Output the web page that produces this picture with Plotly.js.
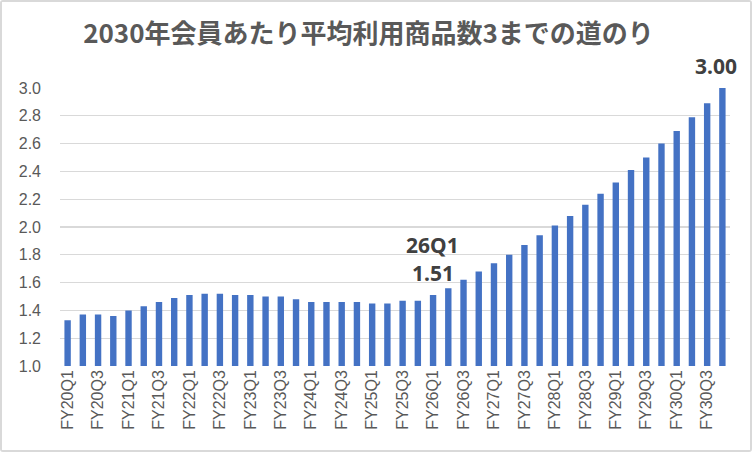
<!DOCTYPE html>
<html>
<head>
<meta charset="utf-8">
<script src="https://cdn.plot.ly/plotly-3.0.1.min.js"></script>
<style>
  html, body { margin: 0; padding: 0; background: #fff; }
  #chart { width: 748px; height: 448px; border: 2px solid #d9d9d9; border-radius: 3px; }
</style>
</head>
<body>
<div id="chart"></div>
<script>
// quarters FY20Q1 .. FY30Q4
var years = ['20', '21', '22', '23', '24', '25', '26', '27', '28', '29', '30'];
var quarters = ['Q1', 'Q2', 'Q3', 'Q4'];

var periods = [];
years.forEach(function (y) {
  quarters.forEach(function (q) { periods.push('FY' + y + q); });
});

// average products per member
var avgProducts = [
  1.33, 1.37, 1.37, 1.36, 1.40, 1.43, 1.46, 1.49,
  1.51, 1.52, 1.52, 1.51, 1.51, 1.50, 1.50, 1.48,
  1.46, 1.46, 1.46, 1.46, 1.45, 1.45, 1.47, 1.47,
  1.51, 1.56, 1.62, 1.68, 1.74, 1.80, 1.87, 1.94,
  2.01, 2.08, 2.16, 2.24, 2.32, 2.41, 2.50, 2.60,
  2.69, 2.79, 2.89, 3.00
];

// every other label is shown
var shownTicks = periods.filter(function (p, i) { return i % 2 === 0; });

var trace = {
  x: periods,
  y: avgProducts,
  type: 'bar',
  marker: { color: '#4472c4' },
  hoverinfo: 'x+y'
};

var tickFont = { family: 'Liberation Sans, Arial, sans-serif', size: 16, color: '#595959' };
var labelFont = { family: 'Noto Sans, sans-serif', size: 21, color: '#404040', weight: 'bold' };

var layout = {
  width: 748,
  height: 448,
  autosize: false,
  margin: { l: 58, r: 20, t: 86, b: 84, pad: 0 },
  paper_bgcolor: '#fff',
  plot_bgcolor: '#fff',
  bargap: 0.58,
  showlegend: false,
  title: {
    text: '<b>2030年会員あたり平均利用商品数3までの道のり</b>',
    font: { family: 'Noto Sans CJK JP, sans-serif', size: 26, color: '#595959' },
    x: 0.49,
    xanchor: 'center',
    y: 0.928,
    yanchor: 'middle',
    automargin: false
  },
  xaxis: {
    type: 'category',
    range: [-0.5, periods.length - 0.5],
    tickmode: 'array',
    tickvals: shownTicks,
    ticktext: shownTicks,
    tickangle: -90,
    tickfont: tickFont,
    showgrid: false,
    showline: false,
    ticks: '',
    automargin: false
  },
  yaxis: {
    range: [1.0, 3.0],
    dtick: 0.2,
    tickformat: '.1f',
    tickfont: tickFont,
    gridcolor: '#d9d9d9',
    gridwidth: 1.3,
    zeroline: false,
    showline: false,
    ticks: '',
    ticklabelstandoff: 18,
    automargin: false
  },
  annotations: [
    { x: periods[43], y: avgProducts[43], text: avgProducts[43].toFixed(2), showarrow: false,
      yanchor: 'bottom', yshift: 6, xshift: -6, font: labelFont },
    { x: periods[24], y: avgProducts[24], text: '26Q1', showarrow: false,
      yanchor: 'bottom', yshift: 34, xshift: -1, font: labelFont },
    { x: periods[24], y: avgProducts[24], text: avgProducts[24].toFixed(2), showarrow: false,
      yanchor: 'bottom', yshift: 6, xshift: 0, font: labelFont }
  ]
};

Plotly.newPlot('chart', [trace], layout, { displayModeBar: false, staticPlot: true });
</script>
</body>
</html>
